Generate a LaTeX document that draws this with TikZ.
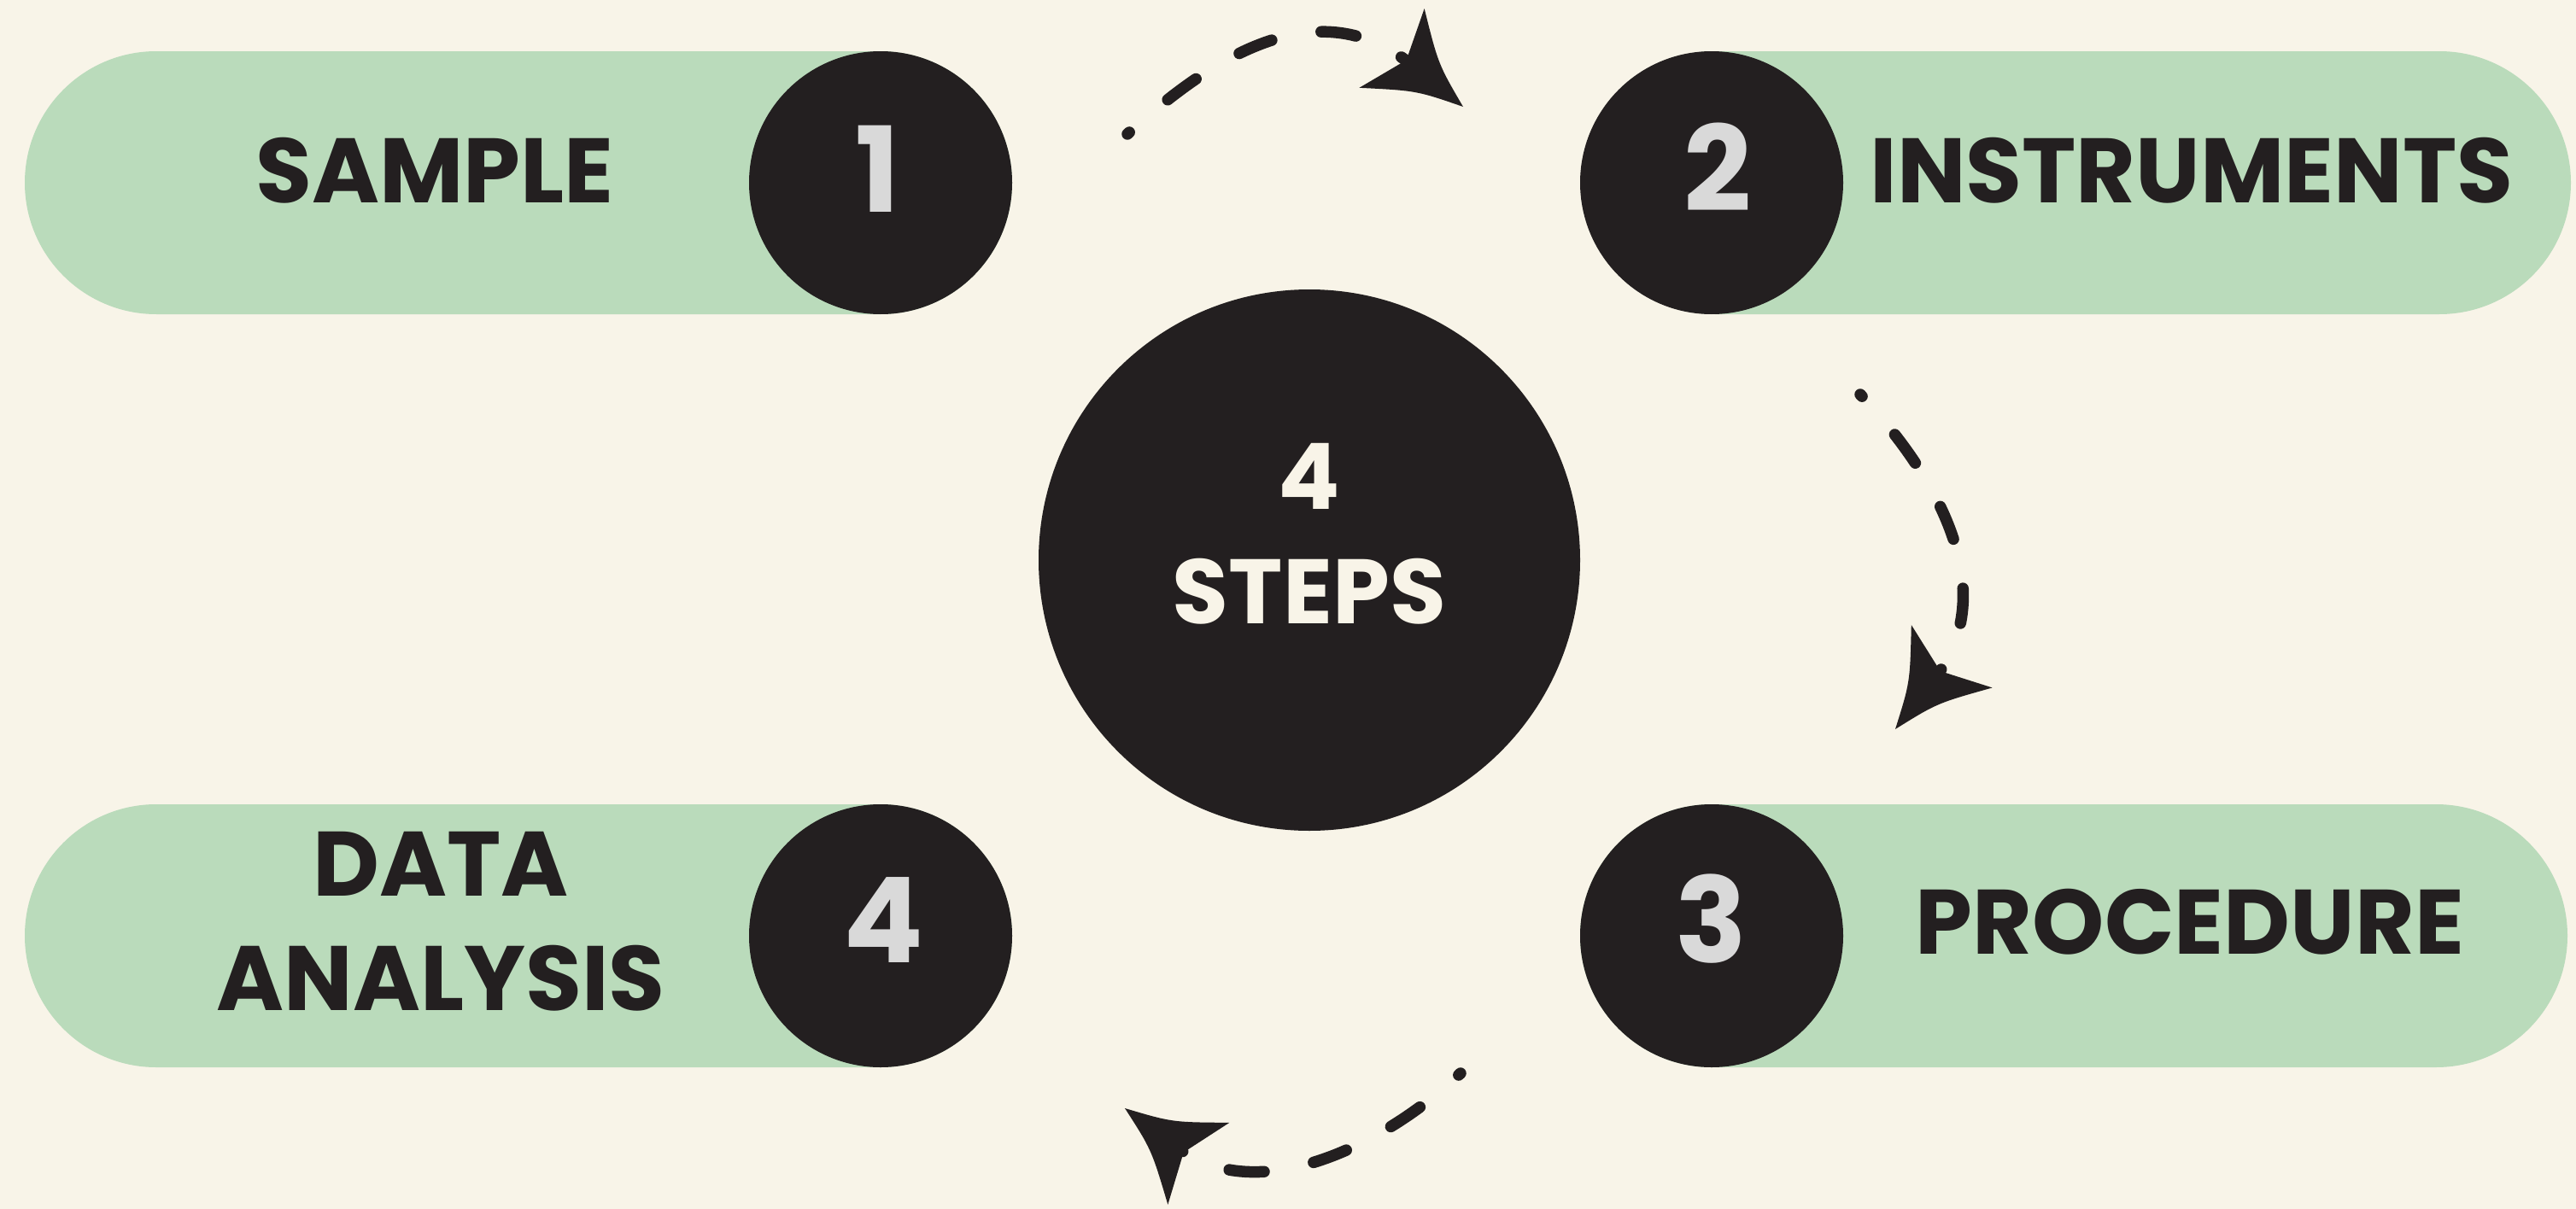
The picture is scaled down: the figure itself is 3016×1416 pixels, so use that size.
\documentclass[tikz,border=0pt]{standalone}
\usepackage{fontspec}
\setmainfont{Poppins}
\usetikzlibrary{shapes.misc}
\definecolor{bgc}{HTML}{F8F4E8}
\definecolor{pillc}{HTML}{BADBBB}
\definecolor{darkc}{HTML}{231F20}
\definecolor{numc}{HTML}{D9D9D9}
\begin{document}
\begin{tikzpicture}[x=0.1mm,y=-0.1mm,
  pill/.style={rounded rectangle, fill=pillc, minimum width=115.6mm, minimum height=30.8mm, inner sep=0pt},
  disc/.style={circle, fill=darkc, minimum size=30.8mm, inner sep=0pt},
  lbl/.style={anchor=base, text=darkc, font=\fontsize{30.5}{38}\selectfont\bfseries, align=center, inner sep=0pt},
  num/.style={anchor=base, text=numc, font=\fontsize{39.5}{40}\selectfont\bfseries, inner sep=0pt},
  ctext/.style={anchor=base, text=bgc, font=\fontsize{30.5}{38}\selectfont\bfseries, align=center, inner sep=0pt},
  dashline/.style={draw=darkc, line width=1.35mm, line cap=round, dash pattern=on 4.1mm off 5.9mm, dash phase=3.8mm},
  ahead/.pic={\fill[darkc] (0,0) .. controls (-54,-20) .. (-108,-60) -- (-86,0) -- (-108,60) .. controls (-54,20) .. (0,0) -- cycle;}
]
\fill[bgc] (0,0) rectangle (3016,1416);
\useasboundingbox (0,0) rectangle (3016,1416);

% pills
\node[pill] (p1) at (607,214) {};
\node[pill] (p2) at (2432,214) {};
\node[pill] (p3) at (2428,1096) {};
\node[pill] (p4) at (607,1096) {};

% step discs
\node[disc] (d1) at (1031,214) {};
\node[disc] (d2) at (2004,214) {};
\node[disc] (d3) at (2004,1096) {};
\node[disc] (d4) at (1031,1096) {};

% centre disc
\node[circle, fill=darkc, minimum size=63.4mm, inner sep=0pt] (c) at (1533,656) {};

% labels
\node[lbl] (t1) at (509,237) {SAMPLE};
\node[lbl] (t2) at (2566,237) {INSTRUMENTS};
\node[lbl] (t3) at (2564,1117) {PROCEDURE};
\node[lbl] (t4) at (516,1183) {DATA\\ANALYSIS};

% numbers
\node[num] (n1) at (1028,248) {1};
\node[num] (n2) at (2011,247) {2};
\node[num] (n3) at (2003,1127) {3};
\node[num] (n4) at (1034,1127) {4};

% centre text
\node[ctext] (ct) at (1533,730) {4\\STEPS};

% arrows
\coordinate (a1s) at (1320,157);
\coordinate (a1e) at (1654,77);
\coordinate (a1t) at (1713,125);
\coordinate (a2s) at (2178,462);
\coordinate (a2e) at (2265.4,794.2);
\coordinate (a2t) at (2219,854);
\coordinate (a3s) at (1710,1257);
\coordinate (a3e) at (1377.9,1343.8);
\coordinate (a3t) at (1317,1298);

\draw[dashline] (a1s) .. controls (1423.6,62.5) and (1545.8,-11.8) .. (a1e);
\draw[dashline] (a2s) .. controls (2267.3,556.5) and (2344.8,691.9) .. (a2e);
\draw[dashline] (a3s) .. controls (1622.9,1339.4) and (1474,1416) .. (a3e);

\pic[rotate=-39.4] at (a1t) {ahead};
\pic[rotate=-127.8] at (a2t) {ahead};
\pic[rotate=143.1] at (a3t) {ahead};
\end{tikzpicture}
\end{document}
